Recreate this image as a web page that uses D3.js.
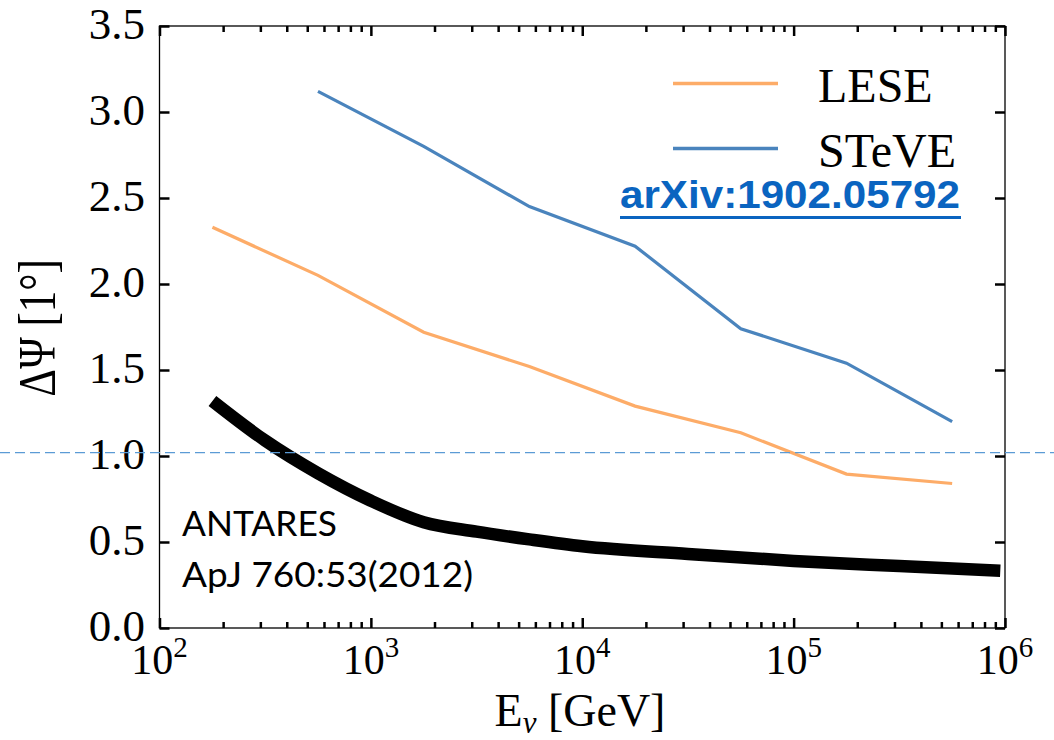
<!DOCTYPE html>
<html>
<head>
<meta charset="utf-8">
<script src="https://cdn.jsdelivr.net/npm/d3@7"></script>
<style>
  html, body { margin: 0; padding: 0; background: #fff; }
  svg { display: block; }
</style>
</head>
<body>
<svg id="chart" width="1054" height="740"></svg>
<script>
// ---- data ----
const leseE   = [178, 562, 1778, 5623, 17783, 56234, 177828, 562341];
const lesePsi = [2.33, 2.05, 1.72, 1.52, 1.29, 1.135, 0.895, 0.84];

const steveE   = [562, 1778, 5623, 17783, 56234, 177828, 562341];
const stevePsi = [3.12, 2.80, 2.45, 2.22, 1.74, 1.54, 1.20];

const antaresE   = [178, 316, 562, 1000, 1778, 3162, 5623, 10000, 31623, 100000, 316228, 950000];
const antaresPsi = [1.32, 1.09, 0.90, 0.74, 0.615, 0.56, 0.515, 0.475, 0.43, 0.39, 0.36, 0.333];

const refLine = 1.02;

const xMajorTicks = [1e2, 1e3, 1e4, 1e5, 1e6];
const xTickExp = ["2", "3", "4", "5", "6"];
const yTicks = [0, 0.5, 1.0, 1.5, 2.0, 2.5, 3.0, 3.5];
const yTickLabels = ["0.0", "0.5", "1.0", "1.5", "2.0", "2.5", "3.0", "3.5"];

const seriesNames = ["LESE", "STeVE"];
const seriesColors = ["#fdac68", "#4a84bd"];

// ---- layout ----
const svg = d3.select("#chart");
const L = 159.5, R = 1005, T = 26, B = 628;
const x = d3.scaleLog().domain([1e2, 1e6]).range([L, R]);
const y = d3.scaleLinear().domain([0, 3.5]).range([B, T]);
const serif = "'Liberation Serif', 'DejaVu Serif', serif";

// minor x ticks
const xMinor = [];
for (let d = 2; d < 6; d++) for (let m = 2; m <= 9; m++) xMinor.push(m * Math.pow(10, d));

// lines
const g = svg.append("g");

g.append("path")
  .datum(d3.zip(antaresE, antaresPsi))
  .attr("d", d3.line().x(d => x(d[0])).y(d => y(d[1])).curve(d3.curveMonotoneX))
  .attr("fill", "none").attr("stroke", "#000").attr("stroke-width", 12.5)
  .attr("stroke-linecap", "butt").attr("stroke-linejoin", "round");

const lin = d3.line().x(d => x(d[0])).y(d => y(d[1]));
g.append("path")
  .datum(d3.zip(leseE, lesePsi))
  .attr("d", lin)
  .attr("fill", "none").attr("stroke", seriesColors[0]).attr("stroke-width", 3.2);
g.append("path")
  .datum(d3.zip(steveE, stevePsi))
  .attr("d", lin)
  .attr("fill", "none").attr("stroke", seriesColors[1]).attr("stroke-width", 3.2);

// frame
svg.append("rect").attr("x", L).attr("y", T).attr("width", R - L).attr("height", B - T)
  .attr("fill", "none").attr("stroke", "#000").attr("stroke-width", 1.3);

// axes (inward ticks)
function styleAxis(sel) {
  sel.select(".domain").remove();
  sel.selectAll(".tick line").attr("stroke", "#000").attr("stroke-width", 2.5);
  sel.selectAll(".tick text").remove();
}
svg.append("g").attr("transform", `translate(0,${B})`)
  .call(d3.axisBottom(x).tickValues(xMajorTicks).tickSize(-10).tickFormat("")).call(styleAxis);
svg.append("g").attr("transform", `translate(0,${B})`)
  .call(d3.axisBottom(x).tickValues(xMinor).tickSize(-6).tickFormat("")).call(styleAxis);
svg.append("g").attr("transform", `translate(0,${T})`)
  .call(d3.axisTop(x).tickValues(xMajorTicks).tickSize(-10).tickFormat("")).call(styleAxis);
svg.append("g").attr("transform", `translate(0,${T})`)
  .call(d3.axisTop(x).tickValues(xMinor).tickSize(-6).tickFormat("")).call(styleAxis);
svg.append("g").attr("transform", `translate(${L},0)`)
  .call(d3.axisLeft(y).tickValues(yTicks).tickSize(-10).tickFormat("")).call(styleAxis);
svg.append("g").attr("transform", `translate(${R},0)`)
  .call(d3.axisRight(y).tickValues(yTicks).tickSize(-10).tickFormat("")).call(styleAxis);

// x tick labels
xMajorTicks.forEach((v, i) => {
  const t = svg.append("text").attr("x", x(v)).attr("y", 674)
    .attr("text-anchor", "middle").attr("font-family", serif).attr("font-size", 42).attr("fill", "#000");
  t.append("tspan").text("10");
  t.append("tspan").attr("dy", -17).attr("font-size", 29).text(xTickExp[i]);
});

// y tick labels
yTicks.forEach((v, i) => {
  svg.append("text").attr("x", 145).attr("y", y(v) + 13)
    .attr("text-anchor", "end").attr("font-family", serif).attr("font-size", 45).attr("fill", "#000")
    .text(yTickLabels[i]);
});

// axis titles
const xt = svg.append("text").attr("x", 580).attr("y", 726).attr("text-anchor", "middle")
  .attr("font-family", serif).attr("font-size", 46).attr("fill", "#000");
xt.append("tspan").text("E");
xt.append("tspan").attr("dy", 7).attr("font-size", 31).attr("font-style", "italic").text("ν");
xt.append("tspan").attr("dy", -7).text(" [GeV]");

svg.append("text")
  .attr("transform", "translate(55,328) rotate(-90) scale(1,1.25)")
  .attr("text-anchor", "middle").attr("font-family", serif).attr("font-size", 43).attr("fill", "#000")
  .text("ΔΨ [1°]");

// legend
seriesNames.forEach((name, i) => {
  const ly = [83.5, 148.5][i];
  svg.append("line").attr("x1", 673).attr("x2", 778).attr("y1", ly).attr("y2", ly)
    .attr("stroke", seriesColors[i]).attr("stroke-width", 3.5);
  svg.append("text").attr("x", 818).attr("y", ly + 18).attr("font-family", serif)
    .attr("font-size", 48).attr("fill", "#000").text(name);
});

// arXiv link
svg.append("text").attr("x", 620).attr("y", 208)
  .attr("font-family", "'Liberation Sans', Arial, sans-serif").attr("font-weight", "bold")
  .attr("font-size", 38).attr("fill", "#0a64c0")
  .attr("textLength", 340).attr("lengthAdjust", "spacingAndGlyphs")
  .text("arXiv:1902.05792");
svg.append("line").attr("x1", 620).attr("x2", 961).attr("y1", 217.5).attr("y2", 217.5)
  .attr("stroke", "#0a64c0").attr("stroke-width", 3);

// ANTARES annotation
svg.append("text").attr("x", 182).attr("y", 536)
  .attr("font-family", "Lato, 'Open Sans', sans-serif").attr("font-size", 35).attr("fill", "#000")
  .attr("textLength", 155).attr("lengthAdjust", "spacingAndGlyphs")
  .text("ANTARES");
svg.append("text").attr("x", 182).attr("y", 587)
  .attr("font-family", "Lato, 'Open Sans', sans-serif").attr("font-size", 35).attr("fill", "#000")
  .attr("textLength", 291).attr("lengthAdjust", "spacingAndGlyphs")
  .text("ApJ 760:53(2012)");

// dashed reference line (full width)
svg.append("line").attr("x1", 0).attr("x2", 1054).attr("y1", y(refLine)).attr("y2", y(refLine))
  .attr("stroke", "#5b9bd5").attr("stroke-width", 1.3).attr("stroke-dasharray", "10,5");
</script>
</body>
</html>
